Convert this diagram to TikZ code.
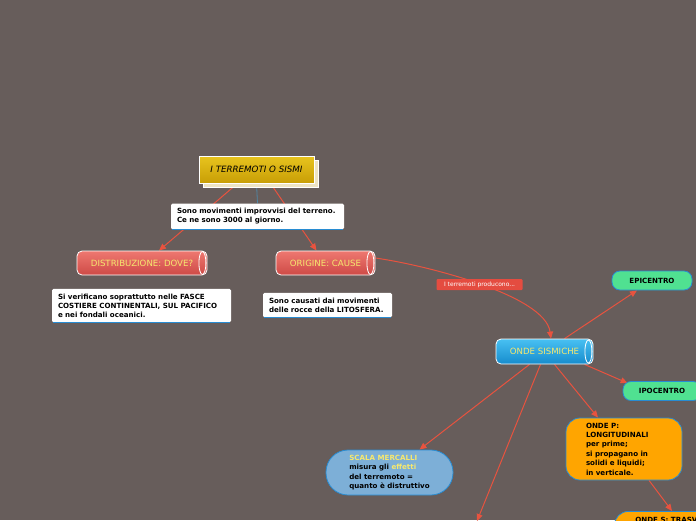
\documentclass[tikz,border=0pt]{standalone}
\usepackage{fontspec}
\setmainfont{DejaVu Sans}
\usetikzlibrary{arrows.meta,positioning,shadows,shadings,backgrounds}
\definecolor{bgGray}{RGB}{103,93,91}
\definecolor{linkRed}{RGB}{232,83,63}
\definecolor{goldTop}{RGB}{232,196,30}
\definecolor{goldBot}{RGB}{200,158,6}
\definecolor{redTop}{RGB}{238,120,112}
\definecolor{redBot}{RGB}{206,74,70}
\definecolor{blueTop}{RGB}{72,192,242}
\definecolor{blueBot}{RGB}{22,140,205}
\definecolor{capYellow}{RGB}{246,232,110}
\definecolor{mintGreen}{RGB}{80,225,145}
\definecolor{edgeBlue}{RGB}{40,140,210}
\definecolor{paleBlue}{RGB}{125,175,215}
\definecolor{tagRed}{RGB}{228,76,64}
\definecolor{orangeFill}{RGB}{255,165,0}
\definecolor{shadowCream}{RGB}{238,228,196}
\definecolor{stemBlue}{RGB}{80,135,165}

\begin{document}
\begin{tikzpicture}[
  x=1pt, y=-1pt,
  titlebox/.style={rectangle, draw=white, line width=0.8pt,
                   top color=goldTop, bottom color=goldBot,
                   minimum width=115pt, minimum height=27pt,
                   font=\itshape\fontsize{8.7}{10}\selectfont,
                   copy shadow={shadow xshift=4pt, shadow yshift=-4pt,
                                fill=shadowCream, draw=white}},
  cyl/.style={rectangle, rounded corners=5pt, draw=white, line width=0.8pt,
              top color=#1Top, bottom color=#1Bot, text=capYellow,
              font=\fontsize{8.6}{10}\selectfont, minimum height=24pt},
  note/.style={rectangle, rounded corners=1.5pt, fill=white, align=left,
               font=\bfseries\fontsize{7.1}{9}\selectfont,
               inner xsep=6pt, inner ysep=5pt},
  pill/.style={rectangle, rounded corners=8pt, draw=edgeBlue, fill=mintGreen,
               line width=0.8pt, font=\bfseries\fontsize{7.1}{8}\selectfont,
               minimum width=80pt, minimum height=19pt},
  bubble/.style={rectangle, draw=edgeBlue, line width=0.8pt, align=left,
                 font=\bfseries\fontsize{7.1}{9.4}\selectfont},
  tag/.style={rectangle, rounded corners=1pt, fill=tagRed, text=white,
              font=\fontsize{6}{6}\selectfont, minimum width=86pt,
              minimum height=11pt, inner sep=1pt},
  link/.style={-{Triangle[length=7pt,width=6pt]}, linkRed, line width=1pt}
]
  \useasboundingbox (0,0) rectangle (696,520);
  \clip (0,0) rectangle (696,520);

  % main topic
  \node[titlebox] (title) at (256.5,169.5) {I TERREMOTI O SISMI};
  \node[note, text width=161pt] (defn) at (257.5,216.5)
    {Sono movimenti improvvisi del terreno.\\Ce ne sono 3000 al giorno.};

  % sub topics
  \node[cyl=red, minimum width=130pt] (dist) at (142,263) {DISTRIBUZIONE: DOVE?\hspace{5pt}};
  \node[cyl=red, minimum width=99pt] (orig) at (325.5,263) {ORIGINE: CAUSE\hspace{5pt}};
  \node[cyl=blue, minimum width=97pt, minimum height=25pt] (onde)
    at (544.5,351.5) {ONDE SISMICHE\hspace{5pt}};

  \node[note, text width=167pt] (distNote) at (141.5,305.5)
    {Si verificano soprattutto nelle FASCE\\COSTIERE CONTINENTALI, SUL PACIFICO\\e nei fondali oceanici.};
  \node[note, text width=117pt] (origNote) at (327.5,305)
    {Sono causati dai movimenti\\delle rocce della LITOSFERA.};

  % cylinder caps
  \foreach \n in {dist, orig, onde}
    \draw[white, line width=0.8pt] ([xshift=-5pt]\n.east) ellipse (3.5pt and 11.5pt);
  % blue edge under the notes
  \foreach \n in {defn, distNote, origNote}
    \draw[edgeBlue, line width=0.9pt] ([xshift=1pt]\n.south west) -- ([xshift=-1pt]\n.south east);

  % seismic waves
  \node[pill] (epi) at (652,280.5) {EPICENTRO};
  \node[pill, minimum width=78pt] (ipo) at (662,391) {IPOCENTRO};
  \node[bubble, fill=orangeFill, rounded corners=14pt, text width=76pt,
        minimum width=116pt, minimum height=62pt] (ondeP) at (624,449)
    {ONDE P:\\LONGITUDINALI\\per prime;\\si propagano in\\solidi e liquidi;\\in verticale.};
  \node[bubble, fill=paleBlue, rounded corners=22pt,
        minimum width=127pt, minimum height=45pt] (mercalli) at (389.5,472.5)
    {\textcolor{capYellow}{SCALA MERCALLI}\\misura gli \textcolor{capYellow}{effetti}\\del terremoto =\\quanto è distruttivo};
  \node[bubble, fill=orangeFill, rounded corners=14pt, anchor=north west,
        minimum width=132pt, inner xsep=18pt, inner ysep=6pt]
    (ondeS) at (614,511) {ONDE S: TRASVERSALI\\[12pt]};
  \coordinate (below) at (477,521);

  % connectors, behind the boxes
  \begin{scope}[on background layer]
  \fill[bgGray] (0,0) rectangle (696,520);
  \draw[stemBlue, line width=0.8pt] (title.south) -- (defn.north);
  \draw[link] ([xshift=-19pt]title.south) -- ([xshift=17pt]dist.north);
  \draw[link] ([xshift=14pt]title.south) -- ([xshift=-9pt]orig.north);
  \draw[link] ([yshift=5pt]orig.east) .. controls (425,265) and (545,295) ..
    ([xshift=6.5pt]onde.north) node[tag, pos=0.5] (tagLbl) {I terremoti producono...};
  \draw[link] ([xshift=20pt]onde.north) -- ([xshift=-15pt]epi.south);
  \draw[link] ([xshift=40pt]onde.south) -- ([xshift=5pt,yshift=-2pt]ipo.north west);
  \draw[link] ([xshift=10pt]onde.south) -- ([xshift=-26pt]ondeP.north);
  \draw[link] ([xshift=-15pt]onde.south) -- ([xshift=30pt]mercalli.north);
  \draw[link] ([xshift=-4pt]onde.south) -- (below);
  \draw[link] ([xshift=25pt]ondeP.south) -- ([xshift=58pt]ondeS.north west);
  \end{scope}
\end{tikzpicture}
\end{document}
